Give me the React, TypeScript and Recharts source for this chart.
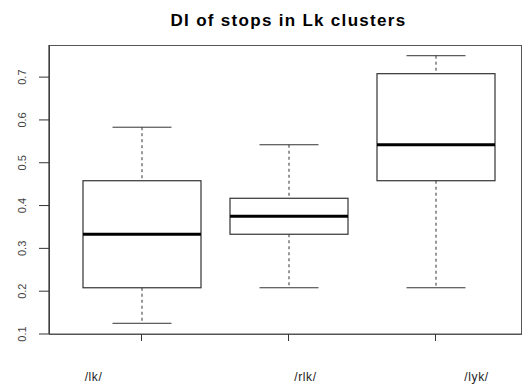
import React from 'react';
import { ComposedChart, Bar, XAxis, YAxis } from 'recharts';

// five-number summaries per cluster
const clusters = ['/lk/', '/rlk/', '/lyk/'];
const lowWhisker = [0.125, 0.208, 0.208];
const lowerQuartile = [0.208, 0.333, 0.458];
const medians = [0.333, 0.375, 0.542];
const upperQuartile = [0.458, 0.417, 0.708];
const highWhisker = [0.583, 0.542, 0.75];
const yTicks = [0.1, 0.2, 0.3, 0.4, 0.5, 0.6, 0.7];

const rows = clusters.map((name, i) => ({
  name,
  range: [lowWhisker[i], highWhisker[i]],
  q1: lowerQuartile[i],
  med: medians[i],
  q3: upperQuartile[i],
}));

const FONT = '"Liberation Sans", Arial, sans-serif';
const INK = '#333';

// plot region, shared by the chart margins and the frame drawn around it
const PLOT = { left: 49, top: 45, right: 521, bottom: 334 };

// the bar spans whisker to whisker; every other level is placed on the same scale
const BoxShape = (props: any) => {
  const { x, y, width, height, payload } = props;
  const [lo, hi] = payload.range;
  const top = Math.min(y, y + height);
  const h = Math.abs(height);
  const py = (v: number) => top + ((hi - v) / (hi - lo)) * h;
  const cx = x + width / 2;
  const cap = width / 4;
  return (
    <g>
      <line x1={cx} x2={cx} y1={py(hi)} y2={py(payload.q3)} stroke={INK} strokeDasharray="3 3" />
      <line x1={cx} x2={cx} y1={py(payload.q1)} y2={py(lo)} stroke={INK} strokeDasharray="3 3" />
      <line x1={cx - cap} x2={cx + cap} y1={py(hi)} y2={py(hi)} stroke={INK} />
      <line x1={cx - cap} x2={cx + cap} y1={py(lo)} y2={py(lo)} stroke={INK} />
      <rect
        x={x}
        y={py(payload.q3)}
        width={width}
        height={py(payload.q1) - py(payload.q3)}
        fill="#fff"
        stroke={INK}
        strokeWidth={1.2}
      />
      <line x1={x} x2={x + width} y1={py(payload.med)} y2={py(payload.med)} stroke="#000" strokeWidth={3} />
    </g>
  );
};

// R places the group names a little off their ticks
const labelShift = [-48, 17, 41];

const XTick = (props: any) => {
  const { x, y, payload, index } = props;
  return (
    <g>
      <line x1={x} x2={x} y1={y} y2={y + 7} stroke={INK} />
      <text
        x={x + labelShift[index]}
        y={y + 47}
        textAnchor="middle"
        fontFamily={FONT}
        fontSize={12}
        letterSpacing={0.6}
        fill="#222"
      >
        {payload.value}
      </text>
    </g>
  );
};

const YTick = (props: any) => {
  const { x, y, payload } = props;
  return (
    <g>
      <line x1={x - 10} x2={x} y1={y} y2={y} stroke={INK} />
      <text
        x={x - 27}
        y={y}
        transform={`rotate(-90 ${x - 27} ${y})`}
        textAnchor="middle"
        dominantBaseline="central"
        fontFamily={FONT}
        fontSize={11}
        fill="#444"
      >
        {payload.value}
      </text>
    </g>
  );
};

export default function App() {
  return (
    <div style={{ position: 'absolute', left: 0, top: 0, width: 532, height: 385, background: '#fff' }}>
      <div
        style={{
          position: 'absolute',
          left: PLOT.left,
          top: PLOT.top,
          width: PLOT.right - PLOT.left - 1,
          height: PLOT.bottom - PLOT.top - 1,
          border: '1.2px solid #555',
        }}
      />
      <div
        style={{
          position: 'absolute',
          left: 0,
          top: 11,
          width: 577,
          textAlign: 'center',
          fontFamily: FONT,
          fontWeight: 'bold',
          fontSize: 17,
          letterSpacing: 1.3,
          color: '#000',
        }}
      >
        DI of stops in Lk clusters
      </div>
      <div style={{ position: 'absolute', left: 0, top: 0 }}>
        <ComposedChart
          width={532}
          height={385}
          data={rows}
          margin={{ top: PLOT.top, right: 532 - PLOT.right, left: 9, bottom: 0 }}
        >
          <XAxis
            dataKey="name"
            height={385 - PLOT.bottom}
            padding={{ left: 19, right: 12 }}
            tickSize={0}
            tickMargin={0}
            tickLine={false}
            axisLine={{ stroke: '#555', strokeWidth: 1.2 }}
            tick={<XTick />}
            interval={0}
          />
          <YAxis
            type="number"
            domain={[0.1, 0.775]}
            ticks={yTicks}
            width={PLOT.left - 9}
            tickSize={0}
            tickMargin={0}
            tickLine={false}
            axisLine={{ stroke: '#333', strokeWidth: 1.2 }}
            tick={<YTick />}
            allowDataOverflow
          />
          <Bar dataKey="range" barSize={118} shape={<BoxShape />} isAnimationActive={false} />
        </ComposedChart>
      </div>
    </div>
  );
}
